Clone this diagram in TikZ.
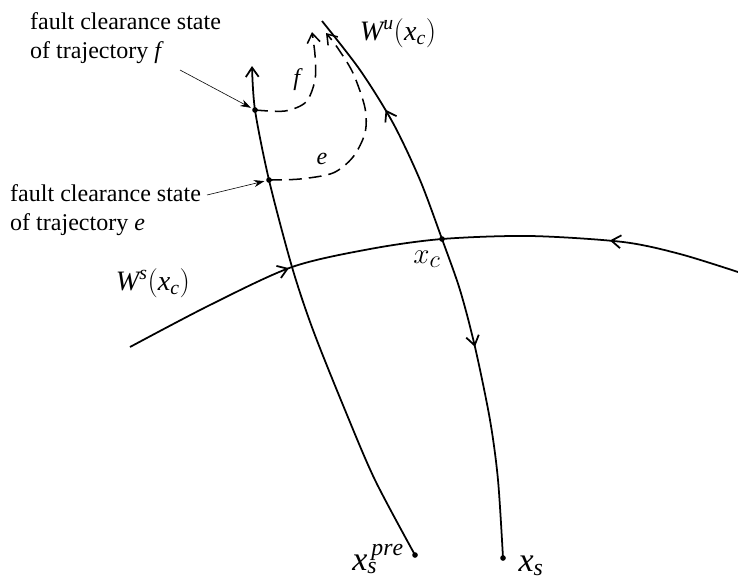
\documentclass[tikz,border=0pt]{standalone}
\usepackage{fontspec}
\setmainfont{Liberation Serif}
\usepackage{tikz}
\usetikzlibrary{arrows.meta, decorations.markings, positioning}

\tikzset{
  >={Straight Barb[length=8pt, width=11pt]},
  traj/.style={line width=1.5pt},
  fault/.style={line width=1.3pt, dash pattern=on 11pt off 6pt, ->},
  pointer/.style={line width=0.5pt, -{Stealth[length=9pt, width=6pt]}, shorten >=4pt},
  note/.style={align=left, inner sep=0pt, font=\fontsize{20.5}{24.7}\selectfont},
  manlbl/.style={inner sep=0pt, font=\fontsize{24}{28}\selectfont},
  ptlbl/.style={inner sep=0pt, font=\fontsize{29}{34}\selectfont},
  fwdmark/.style={postaction={decorate, decoration={markings, mark=at position #1 with {\arrow{>}}}}},
  bwdmark/.style={postaction={decorate, decoration={markings, mark=at position #1 with {\arrow{<}}}}}
}

\begin{document}
\begin{tikzpicture}[x=0.03cm, y=-0.03cm]
\useasboundingbox (0,0) rectangle (738,580);

% points on the trajectories
\coordinate (xc) at (442,239);
\coordinate (xs) at (503,558);
\coordinate (xspre) at (415,555);
\coordinate (fpt) at (255,110);
\coordinate (ept) at (269,180);
\coordinate (lcross) at (292,267);
\coordinate (lefttop) at (252,66);
\coordinate (wutop) at (322,21);
\coordinate (wsleft) at (130,347);
\coordinate (wsright) at (738,272);

% stable manifold
\draw[traj, fwdmark=0.28, bwdmark=0.81] plot[smooth] coordinates
  {(wsleft) (210,305) (lcross) (370,249) (xc) (530,236) (623,242) (680,254) (wsright)};

% unstable manifold and post-fault trajectory
\draw[traj, bwdmark=0.21, fwdmark=0.63] plot[smooth] coordinates
  {(wutop) (360,70) (393,123) (420,180) (xc) (460,290) (475,347) (490,420) (498,480) (xs)};

% pre-fault trajectory
\draw[traj, ->] plot[smooth] coordinates
  {(xspre) (375,480) (345,410) (313,330) (lcross) (ept) (fpt) (lefttop)};

% fault-on trajectories
\draw[fault] plot[smooth] coordinates
  {(fpt) (285,111) (306,102) (315,80) (315,55) (312,32)};
\draw[fault] plot[smooth] coordinates
  {(ept) (300,179) (333,173) (353,157) (365,133) (365,108) (353,73) (337,47) (326,33)};
\node[note] (flbl) at (298,80) {\textit{f}};
\node[note] (elbl) at (322,159) {\textit{e}};

\foreach \p in {xc, xs, xspre, fpt, ept}
  \fill (\p) circle (2.4pt);

% labels
\node[note, anchor=north west] (ftext) at (30,12) {fault clearance state\\of trajectory \textit{f}};
\node[note, anchor=north west] (etext) at (10,184) {fault clearance state\\of trajectory \textit{e}};
\coordinate (fptr) at (180,70);
\coordinate (eptr) at (207,195);
\draw[pointer] (fptr) -- (fpt);
\draw[pointer] (eptr) -- (ept);

\node[manlbl] (wulbl) at (398,33) {$\mathit{W}^{\mathit{u}}(\mathit{x}_{\mathit{c}})$};
\node[manlbl] (wslbl) at (153,283) {$\mathit{W}^{\mathit{s}}(\mathit{x}_{\mathit{c}})$};
\node[ptlbl] (xclbl) at (427,259) {$x_c$};
\node[ptlbl] (xsprelbl) at (378,559) {$\mathit{x}_{\mathit{s}}^{\,\mathit{pre}}$};
\node[ptlbl] (xslbl) at (531,566) {$\mathit{x}_{\mathit{s}}$};
\end{tikzpicture}
\end{document}
